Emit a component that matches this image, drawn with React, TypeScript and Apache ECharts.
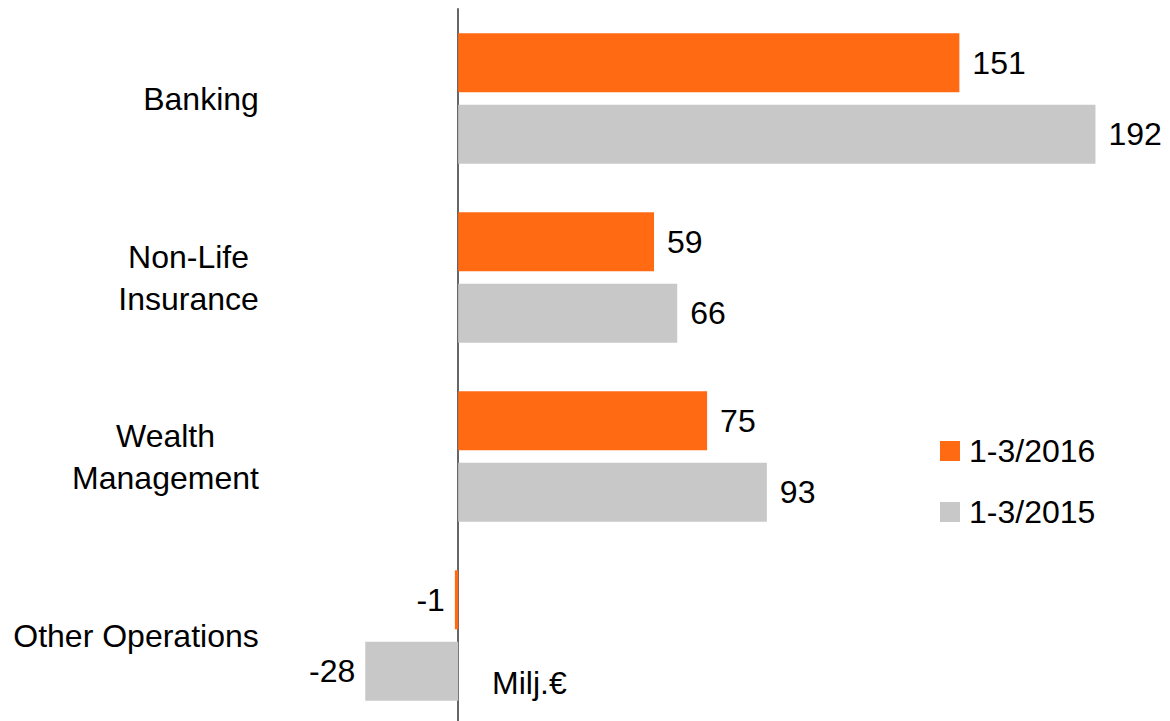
import React, { useEffect, useRef } from "react";
import * as echarts from "echarts";

const categories = ["Banking", "Non-Life\nInsurance", "Wealth\nManagement", "Other Operations"];
const seriesNames = ["1-3/2016", "1-3/2015"];
const values2016 = [151, 59, 75, -1];
const values2015 = [192, 66, 93, -28];
const unitLabel = "Milj.€";

const FONT = "'Liberation Sans', Arial, sans-serif";
const FS = 32;

function measure(text: string): number {
  const c = document.createElement("canvas").getContext("2d");
  if (!c) return text.length * FS * 0.55;
  c.font = `${FS}px 'Liberation Sans'`;
  return c.measureText(text).width;
}

export default function App() {
  const ref = useRef<HTMLDivElement>(null);
  useEffect(() => {
    if (!ref.current) return;
    const chart = echarts.init(ref.current, null, { renderer: "svg" });
    const rich: Record<string, any> = {};
    categories.forEach((c, i) => {
      const w = Math.max(...c.split("\n").map(measure));
      rich["c" + i] = { width: Math.ceil(w), align: "center", fontSize: FS, lineHeight: 42, fontFamily: FONT, color: "#000" };
    });
    const mk = (vals: number[]) =>
      vals.map((v) => ({
        value: v,
        label: v < 0 ? { position: "left", distance: 10 } : { position: "right", distance: 13 },
      }));
    chart.setOption({
      animation: false,
      textStyle: { fontFamily: FONT },
      grid: { left: 269, right: 48, top: 9, bottom: -4, containLabel: false, outerBoundsMode: "none" },
      legend: {
        orient: "vertical",
        left: 935,
        top: 430,
        itemWidth: 20,
        itemHeight: 20,
        itemGap: 29,
        icon: "rect",
        data: seriesNames,
        textStyle: { fontSize: FS, fontFamily: FONT, color: "#000", lineHeight: 32, padding: [0, 0, 0, 4] },
      },
      xAxis: {
        type: "value",
        min: -57,
        max: 200,
        show: false,
        splitLine: { show: false },
      },
      yAxis: {
        type: "category",
        inverse: true,
        data: categories,
        axisLine: { show: true, onZero: true, lineStyle: { color: "#666", width: 2 } },
        axisTick: { show: false },
        axisLabel: {
          margin: 10,
          align: "right",
          formatter: (value: string, index: number) =>
            value
              .split("\n")
              .map((l) => `{c${index}|${l}}`)
              .join("\n"),
          rich,
        },
      },
      series: [
        {
          name: seriesNames[0],
          type: "bar",
          data: mk(values2016),
          barWidth: 59,
          barGap: "21%",
          itemStyle: { color: "#FF6A13" },
          label: { show: true, fontSize: FS, fontFamily: FONT, color: "#000" },
        },
        {
          name: seriesNames[1],
          type: "bar",
          data: mk(values2015),
          barWidth: 59,
          barGap: "21%",
          itemStyle: { color: "#C8C8C8" },
          label: { show: true, fontSize: FS, fontFamily: FONT, color: "#000" },
        },
      ],
      graphic: [
        {
          type: "text",
          left: 492,
          top: 667,
          style: { text: unitLabel, fontSize: FS, fontFamily: FONT, fill: "#000" },
        },
      ],
    });
    return () => chart.dispose();
  }, []);
  return <div ref={ref} style={{ position: "absolute", left: 0, top: 0, width: 1170, height: 721 }} />;
}
